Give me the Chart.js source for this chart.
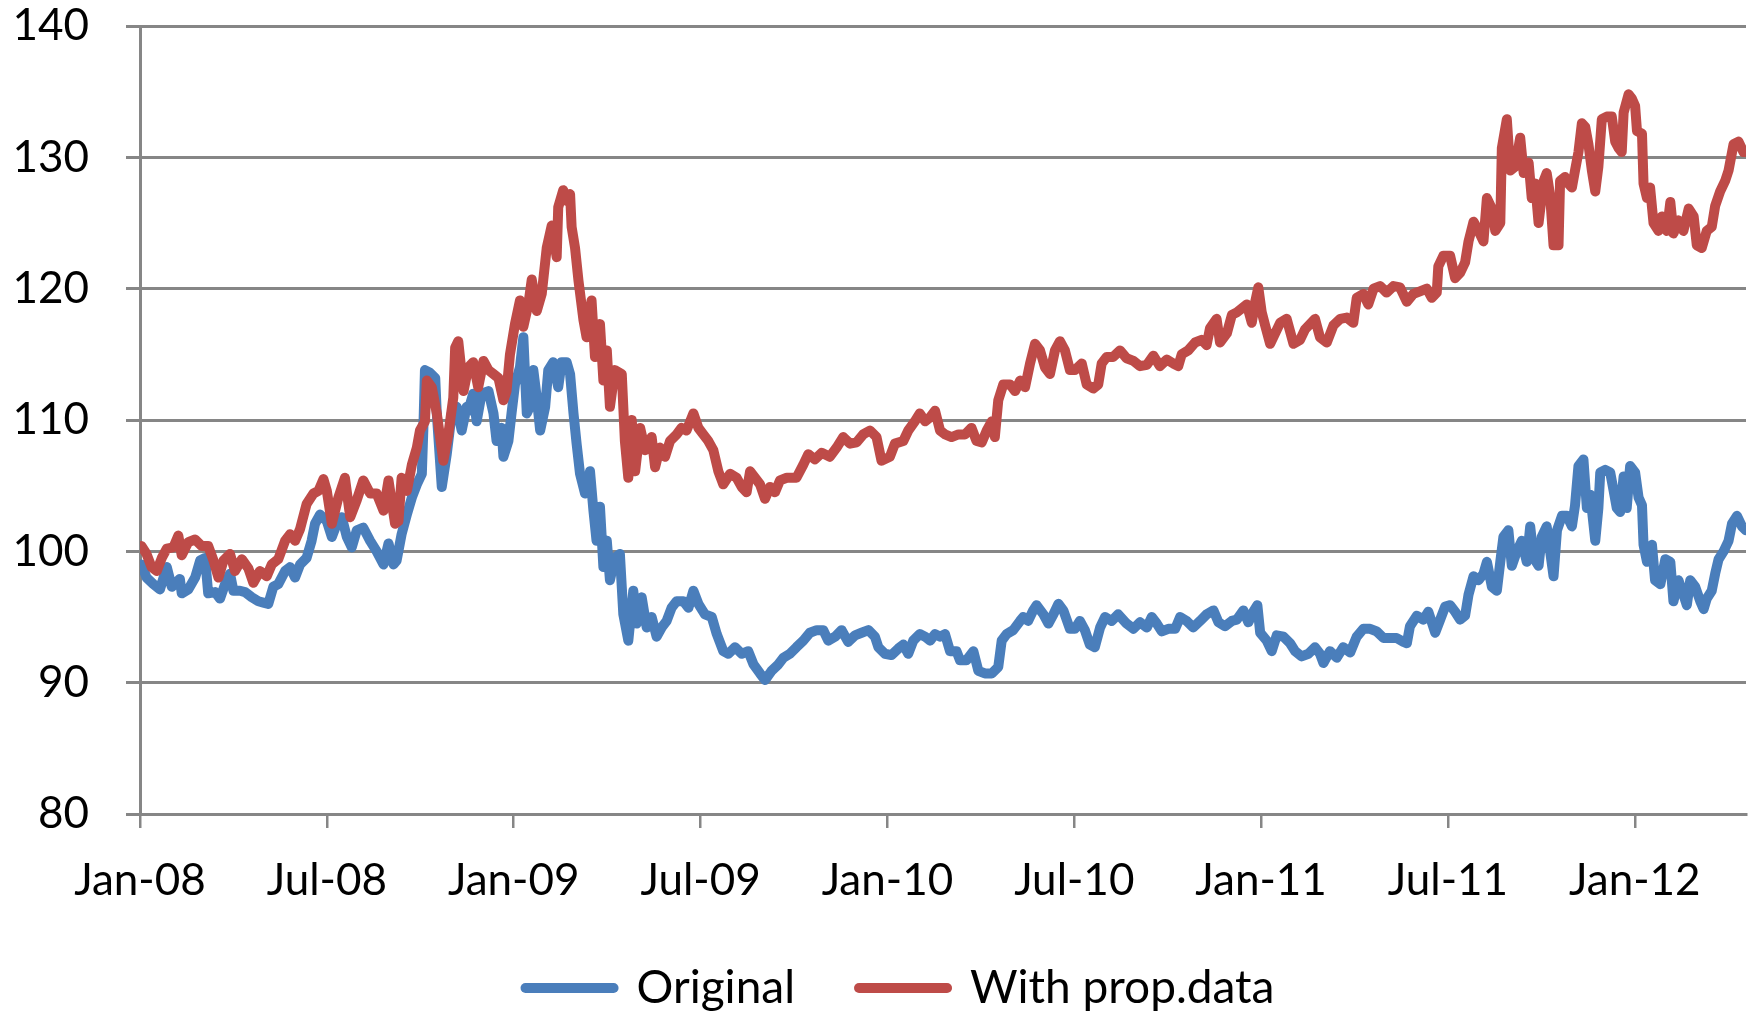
<!DOCTYPE html>
<html>
<head>
<meta charset="utf-8">
<title>Original vs With prop.data</title>
<script src="https://cdn.jsdelivr.net/npm/chart.js@4.4.1/dist/chart.umd.min.js"></script>
<style>
	html, body { margin: 0; padding: 0; background: #ffffff; }
	#chart_box { width: 1749px; height: 1014px; }
</style>
</head>
<body>
<div id="chart_box"><canvas id="chart_main" width="1749" height="1014"></canvas></div>
<script>
// -------- data, x = months since Jan-08
const tick_months = [0, 6, 12, 18, 24, 30, 36, 42, 48];
const tick_labels = ['Jan-08', 'Jul-08', 'Jan-09', 'Jul-09', 'Jan-10', 'Jul-10', 'Jan-11', 'Jul-11', 'Jan-12'];

// Original
const blue_months = [
	0.05,0.21,0.43,0.64,0.86,1.02,1.28,1.34,1.55,1.77,1.93,2.09,2.19,2.41,2.57,2.73,2.89,3.00,3.21,3.37,
	3.59,3.80,3.96,4.12,4.28,4.44,4.66,4.82,4.98,5.14,5.35,5.51,5.62,5.78,6.00,6.16,6.32,6.48,6.64,6.80,
	6.96,7.17,7.39,7.60,7.82,7.98,8.14,8.24,8.40,8.57,8.73,8.89,9.05,9.10,9.15,9.31,9.48,9.53,9.69,9.85,
	10.01,10.17,10.33,10.49,
	10.54,10.70,10.81,10.97,11.19,11.35,11.45,11.61,11.67,11.83,11.93,12.04,12.20,12.31,12.42,12.52,12.63,12.74,12.85,13.01,
	13.11,13.27,13.43,13.54,13.70,13.81,13.92,14.02,14.13,14.29,14.45,14.56,14.66,14.77,14.88,14.99,15.09,15.25,15.41,15.52,
	15.68,15.84,15.95,16.11,16.27,16.43,16.59,16.75,16.91,17.07,17.23,17.45,17.61,17.77,17.93,18.14,18.36,18.52,18.73,18.89,
	19.11,19.32,19.53,19.70,19.91,20.07,20.28,20.50,20.66,
	20.87,21.08,21.30,21.51,21.73,21.94,22.10,22.32,22.53,22.74,22.96,23.17,23.39,23.60,23.71,23.92,24.13,24.35,24.51,24.67,
	24.83,25.04,25.21,25.37,25.53,25.69,25.85,26.01,26.22,26.33,26.54,26.76,26.92,27.13,27.35,27.56,27.67,27.83,28.04,28.26,
	28.36,28.52,28.68,28.79,29.01,29.17,29.33,29.49,29.65,29.86,30.02,30.18,30.34,30.50,30.66,30.83,30.99,31.20,31.41,
	31.68,31.90,32.11,32.33,32.49,32.65,32.81,33.02,33.24,33.40,33.61,33.82,34.04,34.25,34.47,34.63,34.84,35.06,35.22,35.43,
	35.59,35.75,35.88,35.97,36.18,36.34,36.50,36.72,36.93,37.09,37.30,37.52,37.73,37.89,38.00,38.21,38.43,38.64,38.86,39.07,
	39.28,39.50,39.71,39.93,40.14,40.35,40.57,40.68,40.78,41.00,41.21,41.37,41.59,41.75,41.91,42.07,
	42.23,42.39,42.55,42.66,42.82,42.98,43.14,43.25,43.41,43.57,43.68,43.78,43.94,44.05,44.21,44.37,44.53,44.64,44.75,44.91,
	45.01,45.17,45.28,45.39,45.50,45.66,45.82,45.98,46.08,46.19,46.35,46.46,46.57,46.73,46.83,46.89,47.05,47.21,47.32,47.42,
	47.53,47.64,47.74,47.85,48.01,48.12,48.23,48.28,48.39,48.55,48.65,48.82,48.98,49.14,49.24,49.40,49.56,49.67,49.78,49.94,
	50.10,50.21,50.31,50.47,50.58,50.69,50.85,51.01,51.12,51.28,51.44,51.57
];
const blue_values = [
	99.0,98.0,97.5,97.1,98.8,97.3,97.9,96.8,97.1,98.0,99.3,99.5,96.8,96.9,96.4,97.5,98.3,97.0,97.0,96.9,
	96.5,96.2,96.1,96.0,97.3,97.5,98.5,98.8,98.0,99.0,99.5,100.8,102.1,102.8,102.3,101.1,102.1,102.6,101.1,100.3,
	101.6,101.8,100.8,100.0,99.0,100.6,99.0,99.3,101.3,102.8,104.1,105.1,105.9,109.4,113.8,113.6,113.2,110.5,104.9,107.4,
	110.5,111.0,109.2,111.0,
	110.7,112.0,109.9,112.0,112.2,110.5,108.4,109.4,107.2,108.4,110.5,112.7,114.0,116.3,110.5,111.0,113.8,111.7,109.2,111.0,
	113.8,114.4,112.5,114.4,114.4,113.5,110.5,108.2,105.9,104.4,106.1,103.1,100.8,103.4,98.8,100.8,97.8,99.5,99.8,95.2,
	93.2,97.0,94.5,96.5,94.2,95.0,93.5,94.2,94.7,95.7,96.2,96.2,95.7,97.0,96.0,95.2,95.0,93.7,92.4,92.2,
	92.7,92.2,92.4,91.4,90.7,90.2,90.9,91.4,91.9,
	92.2,92.7,93.2,93.8,94.0,94.0,93.2,93.5,94.0,93.1,93.6,93.8,94.0,93.5,92.7,92.2,92.1,92.6,92.9,92.2,
	93.2,93.7,93.5,93.2,93.7,93.5,93.7,92.4,92.4,91.7,91.7,92.4,90.9,90.7,90.7,91.2,93.2,93.7,94.0,94.7,
	95.0,94.7,95.5,95.9,95.2,94.5,95.2,96.0,95.5,94.1,94.1,94.7,94.0,92.9,92.7,94.2,95.0,94.7,95.2,
	94.5,94.1,94.6,94.2,95.0,94.5,93.9,94.1,94.1,95.0,94.7,94.2,94.7,95.2,95.5,94.6,94.3,94.7,94.8,95.5,
	94.6,95.4,95.9,93.8,93.2,92.4,93.6,93.5,93.0,92.4,92.0,92.2,92.7,92.2,91.5,92.4,91.9,92.7,92.3,93.5,
	94.1,94.1,93.9,93.4,93.4,93.4,93.1,93.0,94.3,95.1,94.8,95.4,93.8,94.8,95.8,95.9,
	95.4,94.8,95.1,96.7,98.1,97.8,98.3,99.2,97.3,97.0,99.2,101.1,101.6,98.9,100.0,100.8,99.2,101.9,99.5,98.9,
	101.1,101.9,100.0,98.1,101.6,102.7,102.7,101.9,103.5,106.5,107.0,103.3,104.3,100.8,103.3,106.0,106.2,106.0,104.6,103.3,
	103.0,105.7,103.3,106.5,106.0,104.1,103.5,100.5,99.2,100.5,97.8,97.5,99.4,99.2,96.2,97.8,96.7,95.9,97.8,97.3,
	96.2,95.6,96.4,97.0,98.3,99.4,100.0,100.8,102.1,102.7,101.9,101.6
];

// With prop.data
const red_months = [
	0.05,0.21,0.37,0.54,0.70,0.86,1.07,1.23,1.34,1.55,1.77,1.98,2.19,2.36,2.52,2.68,2.89,3.05,3.27,3.48,
	3.64,3.85,4.07,4.23,4.44,4.66,4.82,4.98,5.14,5.35,5.57,5.73,5.89,6.00,6.16,6.37,6.58,6.75,6.96,7.17,
	7.39,7.60,7.82,7.98,8.19,8.30,8.40,8.57,8.73,8.89,8.99,9.15,9.21,9.37,9.53,9.74,9.90,10.06,10.12,10.22,
	10.39,
	10.54,10.70,10.86,11.03,11.19,11.35,11.51,11.67,11.77,11.88,12.04,12.20,12.31,12.47,12.58,12.74,12.90,13.06,13.22,13.38,
	13.43,13.59,13.70,13.81,13.86,13.97,14.08,14.24,14.34,14.50,14.61,14.77,14.88,14.99,15.09,15.25,15.47,15.57,15.68,15.79,
	15.90,16.06,16.22,16.43,16.54,16.70,16.86,17.02,17.23,17.39,17.55,17.77,17.93,18.09,18.25,18.41,18.57,18.73,18.95,19.16,
	19.32,19.48,19.59,19.75,19.91,20.07,20.23,20.39,20.55,20.77,
	21.08,21.30,21.46,21.67,21.89,22.15,22.37,22.58,22.80,23.01,23.22,23.44,23.65,23.81,24.08,24.24,24.51,24.67,24.88,25.04,
	25.21,25.37,25.53,25.69,25.85,26.06,26.28,26.49,26.70,26.86,27.03,27.19,27.35,27.45,27.56,27.72,27.94,28.10,28.26,28.42,
	28.58,28.74,28.90,29.06,29.22,29.38,29.54,29.70,29.86,30.02,30.24,30.40,30.61,30.77,30.88,31.04,31.25,31.47,
	31.68,31.90,32.11,32.33,32.54,32.75,32.97,33.18,33.34,33.45,33.66,33.88,34.09,34.25,34.36,34.57,34.68,34.90,35.06,35.22,
	35.38,35.54,35.70,35.81,35.91,36.02,36.13,36.29,36.45,36.61,36.82,37.04,37.25,37.41,37.57,37.73,37.89,38.11,38.32,38.54,
	38.75,38.96,39.07,39.28,39.44,39.61,39.82,40.03,40.25,40.46,40.68,40.89,41.10,41.32,41.48,41.64,41.69,41.85,42.07,
	42.23,42.39,42.55,42.66,42.82,42.98,43.14,43.25,43.41,43.52,43.68,43.73,43.89,44.00,44.16,44.32,44.43,44.59,44.69,44.80,
	44.91,45.07,45.17,45.28,45.39,45.55,45.60,45.76,45.87,45.98,46.08,46.19,46.30,46.41,46.51,46.62,46.73,46.83,46.94,47.10,
	47.26,47.37,47.48,47.58,47.64,47.80,47.90,48.01,48.07,48.23,48.28,48.39,48.49,48.60,48.76,48.87,49.03,49.14,49.24,49.40,
	49.56,49.73,49.89,49.99,50.15,50.31,50.47,50.58,50.74,50.90,51.01,51.17,51.33,51.49,51.57
];
const red_values = [
	100.4,99.8,98.8,98.5,99.5,100.2,100.3,101.2,99.7,100.7,100.9,100.4,100.4,99.3,98.0,99.3,99.8,98.5,99.4,98.7,
	97.6,98.5,98.1,99.0,99.4,100.8,101.3,100.8,101.7,103.6,104.4,104.6,105.5,104.6,102.1,104.1,105.6,102.6,103.9,105.4,
	104.4,104.4,103.1,105.4,102.1,102.3,105.6,104.6,106.6,107.9,109.2,109.9,113.0,112.5,110.5,106.9,108.9,111.7,115.5,116.0,
	112.2,
	114.0,114.4,112.5,114.5,113.8,113.5,113.2,111.5,112.2,115.0,117.3,119.1,117.1,118.8,120.7,118.3,119.6,123.1,124.8,122.4,
	126.2,127.5,126.7,127.2,124.7,123.1,120.6,117.6,116.3,119.1,114.8,117.3,113.0,115.3,111.0,113.8,113.5,108.4,105.6,110.0,
	106.1,109.4,107.7,108.7,106.4,107.9,107.2,108.4,108.9,109.4,109.2,110.5,109.4,108.9,108.4,107.7,106.1,105.1,105.9,105.6,
	104.9,104.5,106.1,105.6,105.1,104.0,104.9,104.5,105.4,105.6,
	105.6,106.6,107.4,107.0,107.5,107.2,107.9,108.7,108.2,108.3,108.9,109.2,108.7,106.9,107.2,108.2,108.4,109.2,109.9,110.5,
	109.9,110.2,110.7,109.2,108.9,108.7,108.9,108.9,109.4,108.4,108.3,109.2,109.9,108.7,111.5,112.7,112.7,112.2,113.0,112.5,
	114.3,115.8,115.3,114.0,113.5,115.3,116.0,115.3,113.8,113.8,114.3,112.7,112.4,112.7,114.3,114.8,114.8,115.3,
	114.7,114.5,114.1,114.2,114.9,114.1,114.6,114.3,114.1,115.0,115.3,115.9,116.1,115.7,117.0,117.7,115.9,116.6,118.0,118.2,
	118.5,118.8,117.4,119.0,120.1,118.2,117.2,115.8,116.6,117.4,117.7,115.8,116.1,116.9,117.3,117.7,116.3,115.9,117.2,117.7,
	117.8,117.4,119.3,119.6,118.8,120.0,120.2,119.7,120.2,120.1,119.0,119.6,119.8,120.0,119.3,119.7,121.7,122.5,122.5,
	120.8,121.2,122.0,123.6,125.1,124.4,123.6,126.9,126.1,124.4,125.0,130.7,132.9,129.0,129.3,131.5,128.8,129.6,126.9,128.0,
	125.0,128.2,128.8,127.1,123.3,123.3,128.2,128.5,128.0,127.7,129.0,130.4,132.6,132.3,131.0,129.0,127.4,129.3,132.9,133.1,
	133.1,131.2,130.7,130.4,133.4,134.8,134.5,133.9,132.0,131.8,128.0,126.9,127.7,125.0,124.4,125.5,124.4,126.6,124.2,125.2,
	124.4,126.1,125.5,123.3,123.1,124.4,124.7,126.3,127.4,128.2,129.0,131.0,131.2,130.4,130.4
];

// -------- look
const color_blue = '#4A7EBB';
const color_red = '#BE4B48';
const color_grid = '#868686';
const line_width = 10;
const text_font = {family: 'Lato', size: 44, lineHeight: 1};

function to_points(months, values){
	var n = Math.min(months.length, values.length);
	var points = [];
	for(var i = 0; i < n; i++){
		points.push({x: months[i], y: values[i]});
	}
	return points;
}

function make_dataset(label, months, values, color, order){
	return {
		label: label,
		data: to_points(months, values),
		borderColor: color,
		backgroundColor: color,
		borderWidth: line_width,
		borderJoinStyle: 'round',
		borderCapStyle: 'round',
		pointRadius: 0,
		pointHoverRadius: 0,
		tension: 0,
		fill: false,
		order: order
	};
}

// red is drawn over blue, like in the original
const datasets = [
	make_dataset('Original', blue_months, blue_values, color_blue, 1),
	make_dataset('With prop.data', red_months, red_values, color_red, 0)
];

// legend sits a bit right of the page centre in the original
const legend_nudge = {
	id: 'legend_nudge',
	afterLayout: function(chart){
		chart.legend.left += 54;
	}
};

new Chart(document.getElementById('chart_main'), {
	type: 'line',
	data: {datasets: datasets},
	plugins: [legend_nudge],
	options: {
		responsive: false,
		animation: false,
		devicePixelRatio: 1,
		events: [],
		layout: {padding: {left: 0, right: 3, top: 26, bottom: -7}},
		plugins: {
			tooltip: {enabled: false},
			legend: {
				position: 'bottom',
				labels: {
					font: {family: 'Lato', size: 46},
					color: '#000000',
					usePointStyle: true,
					pointStyleWidth: 88,
					padding: 64,
					generateLabels: function(chart){
						return chart.data.datasets.map(function(ds, i){
							return {
								text: ds.label,
								strokeStyle: ds.borderColor,
								fillStyle: ds.borderColor,
								lineWidth: line_width,
								lineCap: 'round',
								pointStyle: 'line',
								fontColor: '#000000',
								hidden: false,
								datasetIndex: i
							};
						});
					}
				}
			}
		},
		scales: {
			x: {
				type: 'linear',
				min: 0,
				max: 51.57,
				afterBuildTicks: function(scale){
					scale.ticks = tick_months.map(function(v){ return {value: v}; });
				},
				afterFit: function(scale){ scale.height = 87; },
				ticks: {
					callback: function(value){ return tick_labels[tick_months.indexOf(value)]; },
					font: text_font,
					color: '#000000',
					padding: 31,
					maxRotation: 0,
					autoSkip: false
				},
				grid: {drawOnChartArea: false, drawTicks: true, tickLength: 14, color: color_grid, lineWidth: 2.5},
				border: {color: color_grid, width: 3}
			},
			y: {
				min: 80,
				max: 140,
				afterFit: function(scale){
					scale.width = 140;
					// keep the label gap from pushing the plot down
					scale.paddingTop = 0;
					scale.paddingBottom = 0;
				},
				ticks: {stepSize: 10, font: text_font, color: '#000000', padding: 37},
				grid: {color: color_grid, lineWidth: 3, tickLength: 14},
				border: {color: color_grid, width: 3}
			}
		}
	}
});
</script>
</body>
</html>
